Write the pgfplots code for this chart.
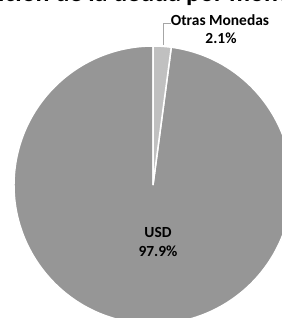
\documentclass[border=0pt]{standalone}
\usepackage{pgfplots}
\usepackage{pgfplotstable}
\pgfplotsset{compat=1.18}
\usepackage{fontspec}
\setmainfont{Carlito}
\definecolor{usdgray}{RGB}{150,150,150}
\definecolor{othgray}{RGB}{192,192,192}
\definecolor{leader}{RGB}{166,166,166}
\pgfplotstableread{
name value
Otras 2.1
USD 97.9
}\piedata
\begin{document}
\begin{tikzpicture}
\clip (0,0) rectangle (282bp,318bp);
\path[use as bounding box] (0,0) rectangle (282bp,318bp);
\pgfplotstablegetelem{0}{value}\of\piedata \let\vA\pgfplotsretval
\pgfplotstablegetelem{1}{value}\of\piedata \let\vB\pgfplotsretval
\pgfmathsetmacro{\aA}{90-3.6*\vA}
\pgfmathsetmacro{\aB}{\aA-3.6*\vB}
\begin{axis}[at={(141bp,159bp)}, anchor=center, scale only axis,
  width=282bp, height=318bp, xmin=0, xmax=282, ymin=0, ymax=318,
  y dir=reverse, hide axis, clip=true]
\fill[usdgray, draw=white, line width=1.5bp] (axis cs:153,185) -- ++(\aA:139bp) arc[start angle=\aA, end angle=\aB, radius=139bp] -- cycle;
\fill[othgray, draw=white, line width=1.5bp] (axis cs:153,185) -- ++(90:139bp) arc[start angle=90, end angle=\aA, radius=139bp] -- cycle;
\draw[leader, line width=1bp] (axis cs:163,45) -- (axis cs:163,23) -- (axis cs:171,23);
\node[font=\bfseries\fontsize{15.5}{18}\selectfont, anchor=base, inner sep=0pt, text=black] at (axis cs:220,25) {Otras Monedas};
\node[font=\bfseries\fontsize{15.5}{18}\selectfont, anchor=base, inner sep=0pt, text=black] at (axis cs:221,43) {2.1\%};
\node[font=\bfseries\fontsize{15.5}{18}\selectfont, anchor=base, inner sep=0pt, text=black] at (axis cs:158,237) {USD};
\node[font=\bfseries\fontsize{15.5}{18}\selectfont, anchor=base, inner sep=0pt, text=black] at (axis cs:158,256) {97.9\%};
\node[overlay, font=\bfseries\fontsize{26}{30}\selectfont, anchor=base east, inner sep=0pt] at (axis cs:181,1) {Composición de la deuda};
\node[overlay, font=\bfseries\fontsize{26}{30}\selectfont, anchor=base west, inner sep=0pt] at (axis cs:186,1) {por moneda};
\end{axis}
\end{tikzpicture}
\end{document}
